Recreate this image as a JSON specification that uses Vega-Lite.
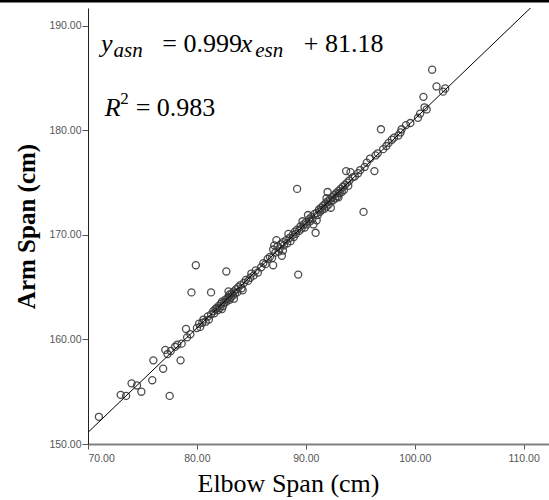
{
  "$schema": "https://vega.github.io/schema/vega-lite/v6.json",
  "width": 461,
  "height": 436,
  "autosize": {"type": "none"},
  "padding": {"left": 88, "top": 8, "right": 0, "bottom": 56},
  "background": "white",
  "config": {
    "view": {"stroke": null},
    "axis": {
      "grid": false,
      "labelFont": "Liberation Sans",
      "labelFontSize": 10.5,
      "labelColor": "#555555",
      "tickColor": "#555555",
      "titleFont": "Liberation Serif",
      "titleColor": "#000000",
      "titleFontSize": 25
    }
  },
  "datasets": {
    "points": [
      {"elbow": 71.0, "arm": 152.6}, {"elbow": 73.0, "arm": 154.7}, {"elbow": 73.5, "arm": 154.6},
      {"elbow": 74.0, "arm": 155.8}, {"elbow": 74.5, "arm": 155.6}, {"elbow": 74.9, "arm": 155.0},
      {"elbow": 75.9, "arm": 156.1}, {"elbow": 76.0, "arm": 158.0}, {"elbow": 76.9, "arm": 157.2},
      {"elbow": 77.1, "arm": 159.0}, {"elbow": 77.3, "arm": 158.6}, {"elbow": 77.5, "arm": 154.6},
      {"elbow": 77.6, "arm": 158.9}, {"elbow": 78.0, "arm": 159.3}, {"elbow": 78.2, "arm": 159.5},
      {"elbow": 78.5, "arm": 158.0}, {"elbow": 78.6, "arm": 159.6}, {"elbow": 79.0, "arm": 161.0},
      {"elbow": 79.1, "arm": 160.2}, {"elbow": 79.4, "arm": 160.5}, {"elbow": 79.5, "arm": 164.5},
      {"elbow": 79.9, "arm": 167.1}, {"elbow": 80.0, "arm": 161.1}, {"elbow": 80.2, "arm": 161.5},
      {"elbow": 80.3, "arm": 161.2}, {"elbow": 80.5, "arm": 161.6}, {"elbow": 80.6, "arm": 161.9},
      {"elbow": 80.8, "arm": 161.7}, {"elbow": 81.0, "arm": 162.2}, {"elbow": 81.1, "arm": 161.9},
      {"elbow": 81.3, "arm": 164.5}, {"elbow": 81.3, "arm": 162.4}, {"elbow": 81.5, "arm": 162.7},
      {"elbow": 81.6, "arm": 162.5}, {"elbow": 81.7, "arm": 162.9}, {"elbow": 81.8, "arm": 163.0},
      {"elbow": 81.9, "arm": 162.8}, {"elbow": 82.0, "arm": 163.2}, {"elbow": 82.1, "arm": 163.0},
      {"elbow": 82.2, "arm": 163.4}, {"elbow": 82.3, "arm": 163.6}, {"elbow": 82.4, "arm": 163.2},
      {"elbow": 82.5, "arm": 163.5}, {"elbow": 82.6, "arm": 163.8}, {"elbow": 82.7, "arm": 166.5},
      {"elbow": 82.7, "arm": 163.6}, {"elbow": 82.8, "arm": 163.9}, {"elbow": 82.9, "arm": 164.1},
      {"elbow": 83.0, "arm": 163.8}, {"elbow": 83.0, "arm": 164.3}, {"elbow": 83.1, "arm": 164.0},
      {"elbow": 83.2, "arm": 164.4}, {"elbow": 83.3, "arm": 164.2}, {"elbow": 83.4, "arm": 164.6},
      {"elbow": 83.5, "arm": 164.4}, {"elbow": 83.6, "arm": 164.8}, {"elbow": 83.7, "arm": 164.5},
      {"elbow": 83.8, "arm": 165.0}, {"elbow": 84.0, "arm": 165.2}, {"elbow": 84.1, "arm": 164.9},
      {"elbow": 84.3, "arm": 165.4}, {"elbow": 84.5, "arm": 165.7}, {"elbow": 84.7, "arm": 165.6},
      {"elbow": 84.9, "arm": 165.9}, {"elbow": 85.0, "arm": 166.3}, {"elbow": 85.2, "arm": 166.1},
      {"elbow": 85.4, "arm": 166.6}, {"elbow": 85.6, "arm": 166.4}, {"elbow": 85.9, "arm": 166.9},
      {"elbow": 86.1, "arm": 167.3}, {"elbow": 86.3, "arm": 167.2}, {"elbow": 86.5, "arm": 167.7},
      {"elbow": 86.7, "arm": 167.9}, {"elbow": 86.9, "arm": 167.8}, {"elbow": 87.0, "arm": 167.1},
      {"elbow": 87.0, "arm": 168.6}, {"elbow": 87.1, "arm": 169.0}, {"elbow": 87.2, "arm": 168.3},
      {"elbow": 87.4, "arm": 168.9}, {"elbow": 87.5, "arm": 168.4}, {"elbow": 87.6, "arm": 168.7},
      {"elbow": 87.7, "arm": 169.1}, {"elbow": 87.9, "arm": 168.5}, {"elbow": 87.9, "arm": 169.3},
      {"elbow": 88.0, "arm": 169.0}, {"elbow": 88.2, "arm": 169.5}, {"elbow": 88.3, "arm": 169.2},
      {"elbow": 88.5, "arm": 169.7}, {"elbow": 88.6, "arm": 169.4}, {"elbow": 88.8, "arm": 170.0},
      {"elbow": 88.9, "arm": 169.8}, {"elbow": 89.0, "arm": 170.3}, {"elbow": 89.1, "arm": 170.1},
      {"elbow": 89.2, "arm": 174.4}, {"elbow": 89.2, "arm": 170.5}, {"elbow": 89.3, "arm": 166.2},
      {"elbow": 89.4, "arm": 170.4}, {"elbow": 89.5, "arm": 170.8}, {"elbow": 89.6, "arm": 170.6},
      {"elbow": 89.8, "arm": 171.0}, {"elbow": 89.9, "arm": 170.7}, {"elbow": 90.0, "arm": 171.2},
      {"elbow": 90.1, "arm": 171.0}, {"elbow": 90.3, "arm": 171.5}, {"elbow": 90.4, "arm": 171.3},
      {"elbow": 90.5, "arm": 171.7}, {"elbow": 90.6, "arm": 171.5}, {"elbow": 90.8, "arm": 172.0},
      {"elbow": 90.9, "arm": 170.2}, {"elbow": 91.0, "arm": 172.1}, {"elbow": 91.1, "arm": 171.9},
      {"elbow": 91.2, "arm": 172.4}, {"elbow": 91.3, "arm": 172.2}, {"elbow": 91.4, "arm": 172.6},
      {"elbow": 91.5, "arm": 172.4}, {"elbow": 91.6, "arm": 172.8}, {"elbow": 91.7, "arm": 172.5},
      {"elbow": 91.8, "arm": 173.0}, {"elbow": 91.9, "arm": 172.7}, {"elbow": 92.0, "arm": 174.1},
      {"elbow": 92.0, "arm": 173.2}, {"elbow": 92.1, "arm": 172.9}, {"elbow": 92.2, "arm": 173.4},
      {"elbow": 92.3, "arm": 173.2}, {"elbow": 92.4, "arm": 173.6}, {"elbow": 92.5, "arm": 173.3},
      {"elbow": 92.6, "arm": 173.8}, {"elbow": 92.7, "arm": 173.5}, {"elbow": 92.8, "arm": 174.0},
      {"elbow": 92.9, "arm": 173.7}, {"elbow": 93.0, "arm": 174.2}, {"elbow": 93.1, "arm": 174.0},
      {"elbow": 93.2, "arm": 174.4}, {"elbow": 93.3, "arm": 174.1}, {"elbow": 93.4, "arm": 174.6},
      {"elbow": 93.5, "arm": 174.3}, {"elbow": 93.6, "arm": 174.8}, {"elbow": 93.7, "arm": 176.1},
      {"elbow": 93.8, "arm": 175.0}, {"elbow": 94.0, "arm": 175.2}, {"elbow": 94.1, "arm": 176.0},
      {"elbow": 94.3, "arm": 175.5}, {"elbow": 94.5, "arm": 175.6}, {"elbow": 94.8, "arm": 175.9},
      {"elbow": 95.0, "arm": 176.2}, {"elbow": 95.3, "arm": 172.2}, {"elbow": 95.4, "arm": 176.5},
      {"elbow": 95.6, "arm": 176.9}, {"elbow": 95.9, "arm": 177.3}, {"elbow": 96.3, "arm": 176.1},
      {"elbow": 96.4, "arm": 177.6}, {"elbow": 96.6, "arm": 177.8}, {"elbow": 96.9, "arm": 180.1},
      {"elbow": 97.1, "arm": 178.2}, {"elbow": 97.4, "arm": 178.5}, {"elbow": 97.6, "arm": 178.8},
      {"elbow": 97.9, "arm": 179.1}, {"elbow": 98.1, "arm": 179.3}, {"elbow": 98.5, "arm": 179.5},
      {"elbow": 98.7, "arm": 179.8}, {"elbow": 98.8, "arm": 180.1}, {"elbow": 99.2, "arm": 180.5},
      {"elbow": 99.6, "arm": 180.7}, {"elbow": 100.3, "arm": 181.2}, {"elbow": 100.5, "arm": 181.6},
      {"elbow": 100.8, "arm": 183.2}, {"elbow": 100.9, "arm": 182.2}, {"elbow": 101.1, "arm": 182.0},
      {"elbow": 101.6, "arm": 185.8}, {"elbow": 102.0, "arm": 184.2}, {"elbow": 102.6, "arm": 183.7},
      {"elbow": 102.8, "arm": 184.0},
      {"elbow": 82.3, "arm": 162.9}, {"elbow": 82.9, "arm": 164.6}, {"elbow": 83.4, "arm": 163.9},
      {"elbow": 84.2, "arm": 164.7}, {"elbow": 87.3, "arm": 169.5}, {"elbow": 87.8, "arm": 168.0},
      {"elbow": 88.4, "arm": 170.1}, {"elbow": 90.2, "arm": 171.9}, {"elbow": 90.7, "arm": 171.0},
      {"elbow": 91.9, "arm": 173.5}, {"elbow": 92.3, "arm": 172.6}, {"elbow": 93.0, "arm": 173.6},
      {"elbow": 93.9, "arm": 174.7}, {"elbow": 91.0, "arm": 171.4}, {"elbow": 89.7, "arm": 171.3}
    ],
    "fit": [
      {"elbow": 70.0, "arm": 151.11},
      {"elbow": 112.3, "arm": 193.37}
    ],
    "one": [{}]
  },
  "layer": [
    {
      "data": {"name": "points"},
      "mark": {"type": "point", "shape": "circle", "filled": false, "size": 50, "strokeWidth": 1.3, "color": "#3a3a3a", "opacity": 0.9},
      "encoding": {
        "x": {
          "field": "elbow", "type": "quantitative",
          "scale": {"domain": [70, 112.33], "nice": false, "zero": false},
          "axis": {"title": "Elbow Span (cm)", "values": [70, 80, 90, 100, 110], "format": ".2f",
                   "tickSize": 5, "labelPadding": 4, "domainColor": "#808080", "domainWidth": 2,
                   "titleFontWeight": "normal", "titleFontSize": 26, "titlePadding": 7, "titleX": 200, "titleAlign": "center"}
        },
        "y": {
          "field": "arm", "type": "quantitative",
          "scale": {"domain": [150, 191.7], "nice": false, "zero": false},
          "axis": {"title": "Arm Span (cm)", "values": [150, 160, 170, 180, 190], "format": ".2f",
                   "tickSize": 6, "labelPadding": 1, "domainColor": "#222222", "domainWidth": 1,
                   "titleFontWeight": "bold", "titlePadding": 9}
        }
      }
    },
    {
      "data": {"name": "fit"},
      "mark": {"type": "line", "color": "#000000", "strokeWidth": 1, "clip": true},
      "encoding": {
        "x": {"field": "elbow", "type": "quantitative"},
        "y": {"field": "arm", "type": "quantitative"}
      }
    },
    {
      "data": {"name": "one"},
      "mark": {"type": "rule", "color": "#000000", "strokeWidth": 2.5, "clip": false},
      "encoding": {
        "x": {"datum": 61.8, "type": "quantitative"},
        "x2": {"datum": 112.5},
        "y": {"datum": 192.35, "type": "quantitative"}
      }
    },
    {
      "data": {"name": "one"},
      "mark": {"type": "text", "text": "y", "font": "Liberation Serif", "fontSize": 26, "fontStyle": "italic", "align": "left", "baseline": "alphabetic", "color": "#000000"},
      "encoding": {"x": {"datum": 71.2, "type": "quantitative"}, "y": {"datum": 187.53, "type": "quantitative"}}
    },
    {
      "data": {"name": "one"},
      "mark": {"type": "text", "text": "asn", "font": "Liberation Serif", "fontSize": 21, "fontStyle": "italic", "align": "left", "baseline": "alphabetic", "color": "#000000"},
      "encoding": {"x": {"datum": 72.35, "type": "quantitative"}, "y": {"datum": 187.0, "type": "quantitative"}}
    },
    {
      "data": {"name": "one"},
      "mark": {"type": "text", "text": "= 0.999", "font": "Liberation Serif", "fontSize": 26, "align": "left", "baseline": "alphabetic", "color": "#000000"},
      "encoding": {"x": {"datum": 76.82, "type": "quantitative"}, "y": {"datum": 187.53, "type": "quantitative"}}
    },
    {
      "data": {"name": "one"},
      "mark": {"type": "text", "text": "x", "font": "Liberation Serif", "fontSize": 26, "fontStyle": "italic", "align": "left", "baseline": "alphabetic", "color": "#000000"},
      "encoding": {"x": {"datum": 84.02, "type": "quantitative"}, "y": {"datum": 187.53, "type": "quantitative"}}
    },
    {
      "data": {"name": "one"},
      "mark": {"type": "text", "text": "esn", "font": "Liberation Serif", "fontSize": 21, "fontStyle": "italic", "align": "left", "baseline": "alphabetic", "color": "#000000"},
      "encoding": {"x": {"datum": 85.35, "type": "quantitative"}, "y": {"datum": 187.0, "type": "quantitative"}}
    },
    {
      "data": {"name": "one"},
      "mark": {"type": "text", "text": "+ 81.18", "font": "Liberation Serif", "fontSize": 26, "align": "left", "baseline": "alphabetic", "color": "#000000"},
      "encoding": {"x": {"datum": 89.81, "type": "quantitative"}, "y": {"datum": 187.53, "type": "quantitative"}}
    },
    {
      "data": {"name": "one"},
      "mark": {"type": "text", "text": "R", "font": "Liberation Serif", "fontSize": 26, "fontStyle": "italic", "align": "left", "baseline": "alphabetic", "color": "#000000"},
      "encoding": {"x": {"datum": 71.53, "type": "quantitative"}, "y": {"datum": 181.33, "type": "quantitative"}}
    },
    {
      "data": {"name": "one"},
      "mark": {"type": "text", "text": "2", "font": "Liberation Serif", "fontSize": 17, "align": "left", "baseline": "alphabetic", "color": "#000000"},
      "encoding": {"x": {"datum": 72.97, "type": "quantitative"}, "y": {"datum": 182.48, "type": "quantitative"}}
    },
    {
      "data": {"name": "one"},
      "mark": {"type": "text", "text": "= 0.983", "font": "Liberation Serif", "fontSize": 26, "align": "left", "baseline": "alphabetic", "color": "#000000"},
      "encoding": {"x": {"datum": 74.38, "type": "quantitative"}, "y": {"datum": 181.33, "type": "quantitative"}}
    }
  ]
}
